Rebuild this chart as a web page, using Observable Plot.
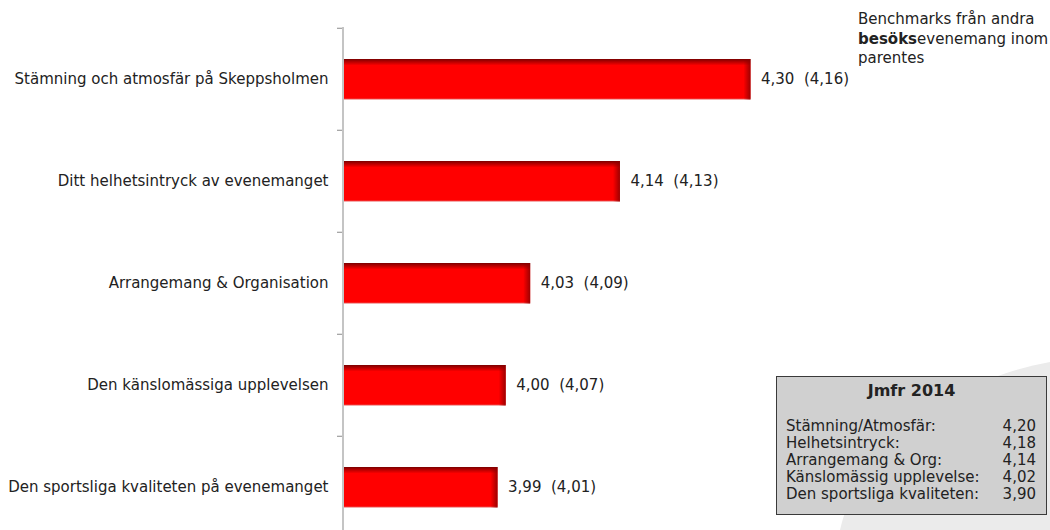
<!DOCTYPE html>
<html>
<head>
<meta charset="utf-8">
<script src="https://cdn.jsdelivr.net/npm/d3@7"></script>
<script src="https://cdn.jsdelivr.net/npm/@observablehq/plot@0.6"></script>
<style>
  html, body { margin: 0; padding: 0; background: #fff; }
  #wrap { position: relative; width: 1050px; height: 530px; overflow: hidden; font-family: "DejaVu Sans", Verdana, sans-serif; color: #222; }
  #swoosh { position: absolute; left: 0; top: 0; }
  #chart { position: absolute; left: 0; top: 0; }
  #note { position: absolute; left: 858px; top: 10px; font-size: 15px; line-height: 19.5px; color: #222; }
  #box { position: absolute; left: 776px; top: 376px; width: 269px; height: 137px; background: #d0d0d0; border: 1px solid #3a3a3a; font-size: 15px; color: #222; }
  #box .title { text-align: center; font-weight: bold; margin-top: 4px; font-size: 16px; }
  #box table { position: absolute; left: 9px; width: 250px; top: 41px; border-collapse: collapse; }
  #box td { padding: 0; line-height: 17px; white-space: nowrap; }
  #box td.v { text-align: right; }
</style>
</head>
<body>
<svg width="0" height="0" style="position:absolute">
  <defs>
    <linearGradient id="barV" x1="0" y1="0" x2="0" y2="1">
      <stop offset="0" stop-color="#7a0000"/>
      <stop offset="0.05" stop-color="#a80000"/>
      <stop offset="0.16" stop-color="#ff0000"/>
      <stop offset="0.96" stop-color="#ff0000"/>
      <stop offset="1" stop-color="#e85a5a"/>
    </linearGradient>
    <linearGradient id="barH" x1="0" y1="0" x2="1" y2="0">
      <stop offset="0" stop-color="#8b0000" stop-opacity="0"/>
      <stop offset="1" stop-color="#8b0000" stop-opacity="0.85"/>
    </linearGradient>
  </defs>
</svg>
<div id="wrap">
  <svg id="swoosh" width="1050" height="530"><path d="M 840 530 C 860 440 960 378 1050 362 L 1050 530 Z" fill="#ebebeb"/></svg>
  <div id="chart"></div>
  <div id="note">Benchmarks från andra<br><b>besöks</b>evenemang inom<br>parentes</div>
  <div id="box">
    <div class="title">Jmfr 2014</div>
    <table id="cmp"></table>
  </div>
</div>
<script>
const categories = [
  "Stämning och atmosfär på Skeppsholmen",
  "Ditt helhetsintryck av evenemanget",
  "Arrangemang & Organisation",
  "Den känslomässiga upplevelsen",
  "Den sportsliga kvaliteten på evenemanget"
];
const values = [4.30, 4.14, 4.03, 4.00, 3.99];
const benchmarks = [4.16, 4.13, 4.09, 4.07, 4.01];

const compLabels = [
  "Stämning/Atmosfär:",
  "Helhetsintryck:",
  "Arrangemang & Org:",
  "Känslomässig upplevelse:",
  "Den sportsliga kvaliteten:"
];
const compValues = [4.20, 4.18, 4.14, 4.02, 3.90];

const fmt = v => v.toFixed(2).replace(".", ",");
const rows = categories.map((c, i) => ({category: c, value: values[i], bench: benchmarks[i]}));

const chart = Plot.plot({
  width: 1050,
  height: 530,
  marginLeft: 342,
  marginRight: 0,
  marginTop: 27,
  marginBottom: 0,
  style: {background: "transparent", fontFamily: "DejaVu Sans, Verdana, sans-serif"},
  x: {domain: [3.8, 4.65], range: [342.5, 342.5 + 0.85 * 816], axis: null},
  y: {type: "band", domain: categories, range: [27, 539.5], padding: 0, axis: null},
  marks: [
    Plot.barX(rows, {x1: 3.8, x2: "value", y: "category", insetTop: 31, insetBottom: 30.5, fill: "url(#barV)"}),
    Plot.barX(rows, {x1: "value", x2: "value", y: "category", insetTop: 31, insetBottom: 30.5, insetLeft: -7, fill: "url(#barH)"}),
    Plot.ruleX([3.8], {stroke: "#c4c4c4", strokeWidth: 2}),
    Plot.axisY({anchor: "left", label: null, tickSize: 5, tickFormat: () => "", dy: -51.25, stroke: "#8a8a8a"}),
    Plot.axisY({anchor: "left", label: null, tickSize: 0, tickPadding: 14, fontSize: 15, fill: "#222"}),
    Plot.text(rows, {x: "value", y: "category", text: d => `${fmt(d.value)}\u00a0\u00a0(${fmt(d.bench)})`, dx: 10, textAnchor: "start", fontSize: 15, fill: "#222"})
  ]
});
document.getElementById("chart").appendChild(chart);

const tbl = document.getElementById("cmp");
compLabels.forEach((l, i) => {
  const tr = document.createElement("tr");
  const a = document.createElement("td"); a.textContent = l;
  const b = document.createElement("td"); b.className = "v"; b.textContent = fmt(compValues[i]);
  tr.appendChild(a); tr.appendChild(b); tbl.appendChild(tr);
});
</script>
</body>
</html>
